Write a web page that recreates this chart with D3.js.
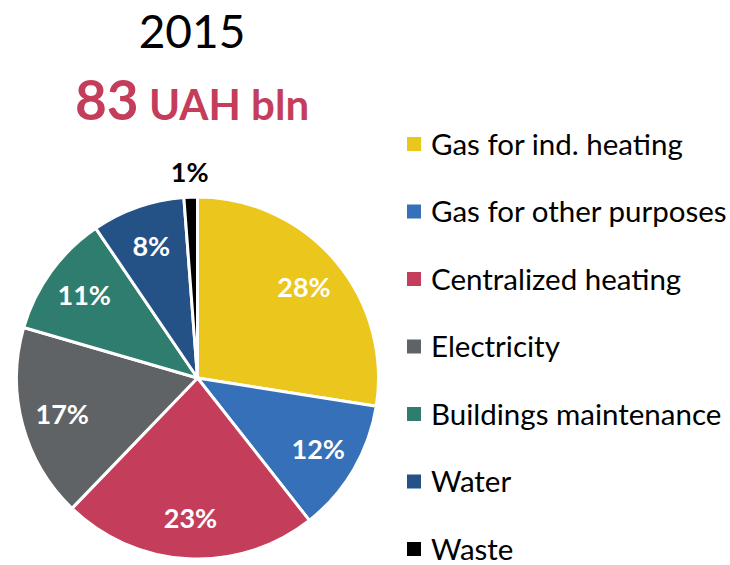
<!DOCTYPE html>
<html>
<head>
<meta charset="utf-8">
<script src="https://cdn.jsdelivr.net/npm/d3@7"></script>
<style>
  body { margin: 0; background: #fff; }
  svg { display: block; font-family: Lato, "Open Sans", sans-serif; }
</style>
</head>
<body>
<div class="chart"></div>
<script>
// data
const categories = [
    "Gas for ind. heating",
    "Gas for other purposes",
    "Centralized heating",
    "Electricity",
    "Buildings maintenance",
    "Water",
    "Waste"
];
const shares = [27.5, 11.9, 22.8, 17.3, 11.0, 8.3, 1.2];
const shareLabels = ["28%", "12%", "23%", "17%", "11%", "8%", "1%"];
const colors = ["#ebc61c", "#3570b8", "#c43e5b", "#5f6366", "#2e7d6e", "#245287", "#000000"];
const year = "2015";
const totalValue = "83";
const totalUnit = "UAH bln";

const w = 730;
const h = 565;
const cx = 197.5;
const cy = 378;
const radius = 181;

const svg = d3.select(".chart")
    .append("svg")
    .attr("width", w)
    .attr("height", h);

// title
svg.append("text")
    .attr("x", 192)
    .attr("y", 48)
    .attr("text-anchor", "middle")
    .attr("font-size", 46)
    .attr("fill", "#000")
    .text(year);

const sub = svg.append("text")
    .attr("x", 192)
    .attr("y", 120)
    .attr("text-anchor", "middle")
    .attr("font-weight", "bold")
    .attr("fill", "#c43e5b");
sub.append("tspan").attr("font-size", 55).text(totalValue);
sub.append("tspan").attr("font-size", 42).text(" " + totalUnit);

// pie
const pie = d3.pie().sort(null).value(d => d);
const arcs = pie(shares);
const arc = d3.arc().innerRadius(0).outerRadius(radius);
const labelArc = d3.arc().innerRadius(140).outerRadius(140);
const outerArc = d3.arc().innerRadius(206).outerRadius(206);

const g = svg.append("g").attr("transform", `translate(${cx},${cy})`);

g.selectAll("path")
    .data(arcs)
    .enter()
    .append("path")
    .attr("d", arc)
    .attr("fill", (d, i) => colors[i])
    .attr("stroke", "#fff")
    .attr("stroke-width", 3)
    .attr("stroke-linejoin", "round");

g.selectAll("text.pct")
    .data(arcs)
    .enter()
    .append("text")
    .attr("class", "pct")
    .attr("transform", (d, i) => {
        const p = (shares[i] < 3 ? outerArc : labelArc).centroid(d);
        return `translate(${p[0]},${p[1]})`;
    })
    .attr("text-anchor", "middle")
    .attr("dy", "0.36em")
    .attr("font-size", 27)
    .attr("font-weight", "bold")
    .attr("fill", (d, i) => shares[i] < 3 ? "#000" : "#fff")
    .text((d, i) => shareLabels[i]);

// legend
const legendY = d3.scalePoint()
    .domain(categories)
    .range([144, 549]);

const legend = svg.append("g")
    .selectAll("g")
    .data(categories)
    .enter()
    .append("g")
    .attr("transform", d => `translate(407,${legendY(d)})`);

legend.append("rect")
    .attr("x", 0)
    .attr("y", -7)
    .attr("width", 14)
    .attr("height", 14)
    .attr("fill", (d, i) => colors[i]);

legend.append("text")
    .attr("x", 24)
    .attr("dy", "0.36em")
    .attr("font-size", 29.5)
    .attr("fill", "#000")
    .text(d => d);
</script>
</body>
</html>
